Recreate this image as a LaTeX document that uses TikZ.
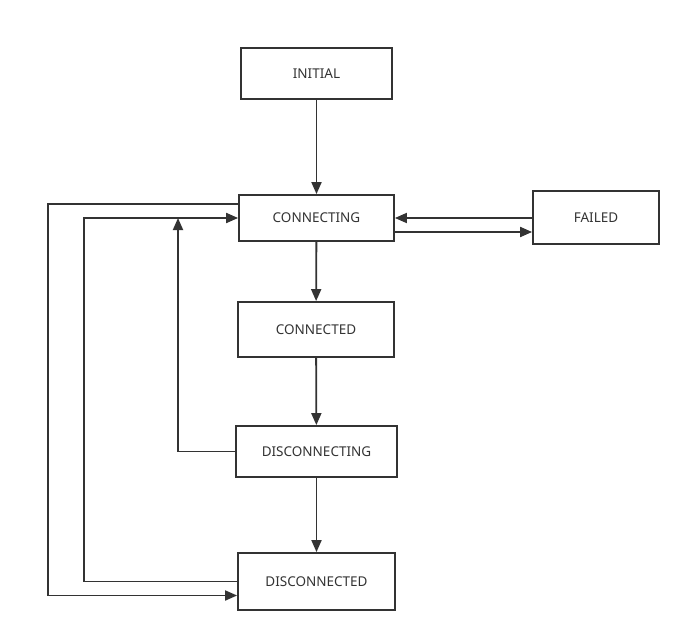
\documentclass[tikz,border=0pt]{standalone}
\usepackage{fontspec}
\setmainfont{Noto Sans}
\usetikzlibrary{arrows.meta,calc}
\definecolor{ink}{HTML}{333333}
\begin{document}
\begin{tikzpicture}[x=1pt,y=-1pt,
  state/.style={draw=ink,line width=1.8pt,text=ink,font=\fontsize{13.5}{15}\selectfont,inner sep=0pt,fill=white},
  link/.style={draw=ink,line width=1.8pt,-{Triangle[length=12pt,width=10pt]}}]
\useasboundingbox (0,0) rectangle (691,642);
\node[state,minimum width=151pt,minimum height=51pt] (init) at (316.5,73.5) {INITIAL};
\node[state,minimum width=155pt,minimum height=46pt] (cing) at (316.5,218) {CONNECTING};
\node[state,minimum width=126pt,minimum height=53pt] (fail) at (596,217.5) {FAILED};
\node[state,minimum width=156pt,minimum height=55pt] (ced) at (316,329.5) {CONNECTED};
\node[state,minimum width=161pt,minimum height=51pt] (ding) at (316.5,451.5) {DISCONNECTING};
\node[state,minimum width=157pt,minimum height=57pt] (ded) at (316.5,581.5) {DISCONNECTED};
\coordinate (up) at (178,218);
\coordinate (toFail) at ($(cing.east)+(0,14)$);
\coordinate (outTop) at ($(cing.west)+(0,-14)$);
\coordinate (inBot) at ($(ded.west)+(0,14)$);
\coordinate (outer) at (48,0);
\coordinate (inner) at (84,0);
\draw[link] (init) -- (cing);
\draw[link] (cing) -- (ced);
\draw[link] (ced) -- (ding);
\draw[link] (ding) -- (ded);
\draw[link] (fail.west |- cing.east) -- (cing.east);
\draw[link] (toFail) -- (toFail -| fail.west);
\draw[link] (ding.west) -| (up);
\draw[link] (outTop) -- (outTop -| outer) |- (inBot);
\draw[link] (ded.west) -- (ded.west -| inner) |- (cing.west);
\end{tikzpicture}
\end{document}
